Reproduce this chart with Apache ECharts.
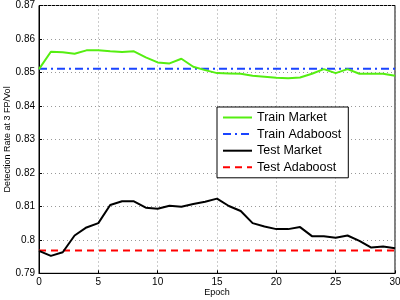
<!DOCTYPE html>
<html>
<head>
<meta charset="utf-8">
<script src="https://cdn.jsdelivr.net/npm/echarts@6/dist/echarts.min.js"></script>
<style>html,body{margin:0;padding:0;background:#fff}#c{width:400px;height:300px}</style>
</head>
<body>
<div id="c"></div>
<script>
const epochs = [0,1,2,3,4,5,6,7,8,9,10,11,12,13,14,15,16,17,18,19,20,21,22,23,24,25,26,27,28,29,30];
const trainMarket = [0.8510,0.8562,0.8560,0.8556,0.8566,0.8566,0.8563,0.8561,0.8563,0.8545,0.8530,0.8527,0.8541,0.8517,0.8507,0.8498,0.8497,0.8496,0.8490,0.8487,0.8484,0.8483,0.8485,0.8496,0.8510,0.8498,0.8510,0.8496,0.8496,0.8496,0.8490];
const testMarket = [0.7967,0.7952,0.7963,0.8013,0.8037,0.8050,0.8104,0.8115,0.8115,0.8096,0.8093,0.8102,0.8099,0.8107,0.8114,0.8123,0.8101,0.8086,0.8050,0.8040,0.8032,0.8032,0.8038,0.8011,0.8011,0.8006,0.8013,0.7997,0.7977,0.7980,0.7975];
const trainAdaboost = 0.8511;
const testAdaboost = 0.7968;
const seriesNames = ['Train Market','Train Adaboost','Test Market','Test Adaboost'];

const pairs = arr => epochs.map((e,i)=>[e,arr[i]]);
const flat = v => [[0,v],[30,v]];
const font = 'Liberation Sans, Arial, Helvetica, sans-serif';

const chart = echarts.init(document.getElementById('c'), null, {renderer:'canvas'});
chart.setOption({
  animation:false,
  backgroundColor:'#fff',
  grid:{left:39,right:5,top:5.5,bottom:26.7,containLabel:false,outerBoundsMode:'none',show:true,borderColor:'#000',borderWidth:1,backgroundColor:'transparent'},
  xAxis:{type:'value',min:0,max:30,interval:5,
    name:'Epoch',nameLocation:'middle',nameGap:15,nameMoveOverlap:false,
    nameTextStyle:{fontFamily:font,fontSize:9,color:'#000'},
    axisLine:{lineStyle:{color:'#000'}},
    axisTick:{show:true,inside:true,length:3,lineStyle:{color:'#000'}},
    axisLabel:{fontFamily:font,fontSize:10,color:'#000',margin:4},
    splitLine:{show:true,lineStyle:{type:[1,3],color:'#999'}}},
  yAxis:{type:'value',min:0.79,max:0.87,interval:0.01,
    name:'Detection Rate at 3 FP/Vol',nameLocation:'middle',nameGap:27,nameMoveOverlap:false,
    nameTextStyle:{fontFamily:font,fontSize:9,color:'#000'},
    axisLine:{show:true,lineStyle:{color:'#000'}},
    axisTick:{show:true,inside:true,length:3,lineStyle:{color:'#000'}},
    axisLabel:{fontFamily:font,fontSize:10,color:'#000',margin:4,formatter:v=>String(+v.toFixed(2))},
    splitLine:{show:true,lineStyle:{type:[1,3],color:'#999'}}},
  legend:{orient:'vertical',left:217,top:107,padding:[4,7,4,5],itemWidth:29,itemHeight:14,itemGap:3.6,
    backgroundColor:'#fff',borderColor:'#000',borderWidth:1,borderRadius:0,
    itemStyle:{opacity:0,borderWidth:0},
    textStyle:{fontFamily:font,fontSize:12.5,color:'#000'},
    data:seriesNames},
  series:[
    {name:seriesNames[0],type:'line',data:pairs(trainMarket),showSymbol:false,symbol:'none',lineStyle:{color:'#55ee11',width:2},itemStyle:{color:'#55ee11'},z:3},
    {name:seriesNames[1],type:'line',data:flat(trainAdaboost),showSymbol:false,symbol:'none',lineStyle:{color:'#1a44ff',width:2,type:[8,4,2,4]},itemStyle:{color:'#1a44ff'},z:2},
    {name:seriesNames[2],type:'line',data:pairs(testMarket),showSymbol:false,symbol:'none',lineStyle:{color:'#000',width:2},itemStyle:{color:'#000'},z:3},
    {name:seriesNames[3],type:'line',data:flat(testAdaboost),showSymbol:false,symbol:'none',lineStyle:{color:'#ff0000',width:2,type:[7,5]},itemStyle:{color:'#ff0000'},z:2}
  ]
});
</script>
</body>
</html>
